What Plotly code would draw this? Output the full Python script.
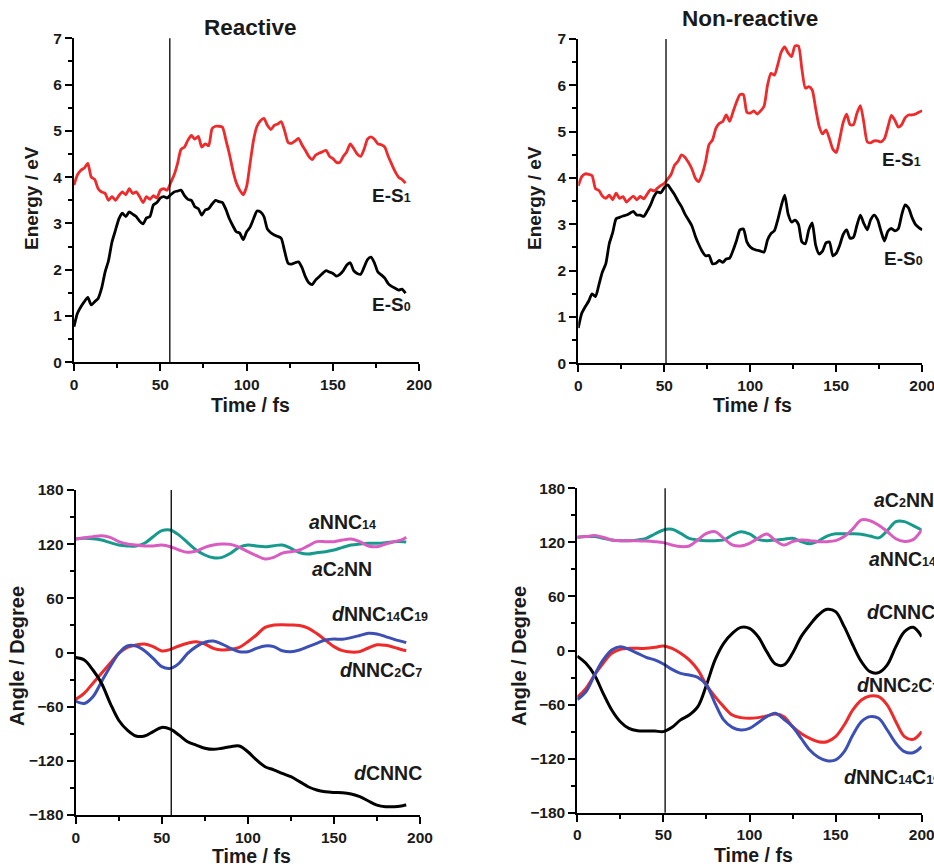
import plotly.graph_objects as go

# ---------------- data ----------------
# Energy panels: sampled every 2 fs
E_S1_REACT = [3.83, 4.05, 4.15, 4.2, 4.3, 4.0, 3.95, 3.75, 3.68, 3.65,
              3.5, 3.58, 3.5, 3.6, 3.68, 3.62, 3.75, 3.65, 3.68, 3.58,
              3.45, 3.58, 3.52, 3.6, 3.55, 3.72, 3.75, 3.72, 3.88, 4.05,
              4.3, 4.6, 4.65, 4.8, 4.9, 4.82, 4.88, 4.65, 4.72, 4.68,
              5.05, 5.1, 5.1, 5.08, 4.8, 4.5, 4.15, 3.88, 3.72, 3.62,
              3.8, 4.3, 4.8, 5.1, 5.22, 5.27, 5.12, 5.03, 5.12, 5.15,
              5.2, 5.0, 4.75, 4.73, 4.78, 4.84, 4.7, 4.58, 4.45, 4.38,
              4.48, 4.52, 4.55, 4.58, 4.45, 4.4, 4.32, 4.32, 4.45, 4.55,
              4.72, 4.62, 4.5, 4.45, 4.6, 4.82, 4.87, 4.82, 4.72, 4.7,
              4.65, 4.45, 4.28, 4.12, 4.0, 3.95, 3.87]
E_S0_REACT = [0.77, 1.06, 1.2, 1.31, 1.4, 1.24, 1.31, 1.38, 1.6, 1.95,
              2.2, 2.6, 2.85, 3.1, 3.22, 3.15, 3.25, 3.2, 3.15, 3.05,
              2.99, 3.12, 3.15, 3.4, 3.45, 3.55, 3.58, 3.55, 3.62, 3.68,
              3.7, 3.72, 3.6, 3.52, 3.5, 3.36, 3.32, 3.18, 3.29, 3.32,
              3.42, 3.5, 3.47, 3.45, 3.3, 3.1, 2.95, 2.82, 2.79, 2.65,
              2.82, 2.92, 3.1, 3.27, 3.25, 3.15, 2.88, 2.8, 2.75, 2.72,
              2.68, 2.4, 2.14, 2.12, 2.15, 2.17, 2.05, 1.85, 1.72, 1.68,
              1.78, 1.85, 1.92, 1.98, 1.95, 1.92, 1.86, 1.9, 1.98, 2.1,
              2.15, 1.98, 1.92, 1.9, 2.05, 2.22, 2.27, 2.15, 1.95, 1.89,
              1.82, 1.7, 1.64, 1.6, 1.56, 1.58, 1.49]
E_S1_NONREACT = [3.83, 4.03, 4.09, 4.08, 4.05, 3.77, 3.73, 3.61, 3.56, 3.63,
                 3.53, 3.67, 3.56, 3.6, 3.48, 3.55, 3.61, 3.53, 3.6, 3.55,
                 3.65, 3.75, 3.72, 3.78, 3.84, 3.88, 3.98, 4.08, 4.28, 4.36,
                 4.5, 4.45, 4.34, 4.2, 4.0, 3.92, 4.08, 4.35, 4.72, 4.82,
                 5.07, 5.18, 5.22, 5.36, 5.22, 5.43, 5.64, 5.8, 5.8, 5.42,
                 5.4, 5.45, 5.38, 5.45, 5.55, 6.0, 6.26, 6.22, 6.45, 6.72,
                 6.83, 6.7, 6.62, 6.85, 6.85, 6.35, 5.94, 5.97, 5.9, 5.5,
                 5.12, 4.95, 5.04, 4.85, 4.62, 4.55, 4.85, 5.2, 5.38, 5.15,
                 5.15, 5.4, 5.56, 5.2, 4.78, 4.76, 4.8, 4.8, 4.78, 4.85,
                 5.1, 5.35, 5.25, 5.1, 5.15, 5.3, 5.36, 5.36, 5.38, 5.42,
                 5.45]
E_S0_NONREACT = [0.76, 1.08, 1.22, 1.34, 1.5, 1.44, 1.7, 1.97, 2.15, 2.58,
                 2.82, 3.12, 3.15, 3.18, 3.2, 3.24, 3.28, 3.2, 3.2, 3.17,
                 3.28, 3.42, 3.6, 3.7, 3.68, 3.79, 3.85, 3.75, 3.64, 3.5,
                 3.38, 3.22, 3.1, 2.97, 2.75, 2.57, 2.42, 2.32, 2.33, 2.15,
                 2.16, 2.22, 2.18, 2.25, 2.27, 2.44, 2.65, 2.88, 2.9, 2.62,
                 2.51, 2.46, 2.44, 2.42, 2.4, 2.66, 2.8, 2.86, 3.1, 3.4,
                 3.63, 3.22, 3.05, 3.09, 3.0, 2.62, 2.58, 2.88, 3.03, 2.55,
                 2.36, 2.42, 2.6, 2.62, 2.32, 2.38, 2.55, 2.78, 2.88, 2.7,
                 2.72, 2.98, 3.2, 3.02, 2.88, 3.1, 3.2, 3.1, 2.85, 2.64,
                 2.85, 2.91, 2.86, 2.9, 3.2, 3.42, 3.35, 3.15, 3.0, 2.93,
                 2.88]
T_E_REACT = [2 * i for i in range(len(E_S1_REACT))]
T_E_NONREACT = [2 * i for i in range(len(E_S1_NONREACT))]

# Angle panels
T_ANG_REACT = [0, 5, 10, 15, 20, 25, 30, 35, 40, 45, 50, 55, 60, 65, 70, 75, 80, 85, 90, 95,
               100, 105, 110, 115, 120, 125, 130, 135, 140, 145, 150, 155, 160, 165, 170, 175,
               180, 185, 190, 192]
D_CNNC_R = [-5.5, -8.3, -19.4, -34, -56, -75, -86, -92.5, -92.5, -87.7,
            -83, -85, -91.4, -98.8, -102.5, -106, -107.3, -106, -104.3, -103.6,
            -109.9, -119, -126.5, -130, -133.9, -137.6, -143, -148.7, -152.3, -154.2,
            -155, -155.3, -156.8, -159.7, -164.5, -169, -170.8, -170.8, -169.7, -169]
D_NNC2C7_R = [-52, -45, -34, -23, -12, -1, 5.7, 8.3, 9.4, 6.5,
              1.7, 3.5, 7.2, 10.2, 12, 9.4, 4.6, 2.8, 3.5, 5.7,
              12, 19.4, 27.9, 30.4, 30.8, 30.5, 30, 27, 21, 13.8,
              6.5, 2, 0.5, 1, 5, 8.5, 8, 5.7, 2.8, 2]
D_NNC14C19_R = [-54, -56.4, -49, -32.3, -15.7, -1, 7.2, 7.2, 2, -6.5,
                -15.7, -17.6, -12, -1, 6.5, 11.3, 12.7, 9.4, 4.6, 0.9,
                0.9, 4.6, 7.2, 6.5, 2, 0.9, 2.8, 6.5, 10.2, 13.8,
                15, 14.6, 16.5, 18.8, 21.2, 20.5, 17.6, 14.6, 12, 10.9]
A_C2NN_R = [125.7, 126.5, 126, 124.6, 121.7, 119, 118, 118, 121, 128.3,
            135, 135.7, 130, 121.7, 113.5, 108, 105, 105.4, 110, 116.5,
            119, 118, 117.2, 118.3, 119, 115.4, 110.6, 109, 110.6, 111.7,
            113.5, 116.5, 119, 120.2, 121, 121, 121.7, 122.8, 122.8, 122.4]
A_NNC14_R = [125.7, 127.2, 128.3, 129.4, 127.6, 122.8, 120.2, 119, 118, 118,
             119, 117.2, 113.5, 111, 112.4, 116.5, 119, 120.2, 119.8, 116.5,
             111.7, 107.3, 103.6, 105.4, 110, 111.7, 113.5, 118, 122.8, 122.8,
             122.8, 124.6, 125.7, 122.8, 118, 117.2, 120.2, 122.8, 125.3, 127.6]

T_ANG_NONREACT = [0, 5, 10, 15, 20, 25, 30, 35, 40, 45, 50, 55, 60, 65, 70, 75, 80, 85, 90, 95,
                  100, 105, 110, 115, 120, 125, 130, 135, 140, 145, 150, 155, 160, 165, 170, 175,
                  180, 185, 190, 195, 200]
D_CNNC_N = [-6.3, -14.2, -27.2, -47.5, -66, -79, -86.4, -89, -89.3, -89.3,
            -90, -85.3, -77, -71.6, -62.3, -38.3, -10.5, 8, 19, 25.7,
            24.6, 15.4, -1.3, -15, -16, -3.1, 15.4, 28.3, 39.4, 45.7,
            43.1, 26.5, 6.1, -12.4, -23.5, -24.6, -16, 4.3, 20.9, 25.7,
            15.4]
D_NNC2C7_N = [-52, -42, -27.2, -14.2, -3.1, 1.3, 2.4, 2.4, 2.4, 3.5,
              5, 2.4, -3.1, -10.5, -21.6, -38.3, -51.2, -62.3, -71.6, -74.5,
              -75.3, -74.5, -72.7, -70.5, -73.4, -84.5, -92, -97.5, -101.2, -101.2,
              -95.6, -82.7, -66, -54.9, -50.5, -51.2, -60.5, -79, -95.6, -98.6,
              -90]
D_NNC14C19_N = [-54.4, -45.8, -27.2, -10.5, 0.6, 4.3, 1.3, -3.1, -7.6, -10.5,
                -15, -20.9, -25.4, -27.2, -29.8, -38.3, -58.6, -77, -85.3, -88.2,
                -86.4, -80.1, -73.4, -69.7, -76.4, -84.5, -97.5, -110.4, -118.5, -122.3,
                -121.5, -112.3, -93.8, -79, -73.4, -75.3, -88.2, -103, -112.3, -113.4,
                -106.7]
A_C2NN_N = [125.6, 126.4, 126.4, 124.5, 122.7, 121.9, 121.9, 122.7, 124.5, 129.3,
            133.8, 134.5, 130, 124.5, 122.7, 121.9, 121.9, 122.7, 128.2, 131.9,
            129.3, 123.4, 121.9, 122.7, 123.4, 124.5, 121, 118.5, 121.5, 127,
            129.5, 129.5, 129.5, 129, 127, 125, 133, 143, 143, 138.5,
            133.7]
A_NNC14_N = [125.6, 126.4, 127.5, 125.6, 122.7, 121.9, 121.9, 121.9, 121.5, 120.8,
             119.7, 117.1, 115.3, 116, 122.7, 130, 131.9, 124.5, 117.1, 116,
             119, 124.5, 129.3, 122, 117, 121, 122.7, 121.9, 120.8, 120.8,
             121.9, 126.4, 135, 145, 144, 139, 132, 124, 121, 123,
             134]

CROSS_TIME_REACT = 55.5
CROSS_TIME_NONREACT = 51

# ---------------- styling ----------------
FONT = "Liberation Sans, Arial, sans-serif"
RED = "#ee2a2a"
BLACK = "#000000"
TEAL = "#169a8c"
PINK = "#d95cc0"
BLUE = "#3c4fb4"
TXT = "#1a1a1a"

fig = go.Figure()

def line(x, y, color, name, xa, ya, width=2.8, smooth=0.6):
    fig.add_trace(go.Scatter(x=x, y=y, mode="lines", name=name,
                             line=dict(color=color, width=width, shape="spline", smoothing=smooth),
                             xaxis=xa, yaxis=ya, showlegend=False))

# Panel 1: reactive energies
line(T_E_REACT, E_S1_REACT, RED, "E-S1", "x", "y")
line(T_E_REACT, E_S0_REACT, BLACK, "E-S0", "x", "y")
# Panel 2: non-reactive energies
line(T_E_NONREACT, E_S1_NONREACT, RED, "E-S1", "x2", "y2")
line(T_E_NONREACT, E_S0_NONREACT, BLACK, "E-S0", "x2", "y2")
# Panel 3: reactive angles
for ys, c, n in [(A_C2NN_R, TEAL, "aC2NN"), (A_NNC14_R, PINK, "aNNC14"),
                 (D_NNC2C7_R, RED, "dNNC2C7"), (D_NNC14C19_R, BLUE, "dNNC14C19"),
                 (D_CNNC_R, BLACK, "dCNNC")]:
    line(T_ANG_REACT, ys, c, n, "x3", "y3", width=3, smooth=1.0)
# Panel 4: non-reactive angles
for ys, c, n in [(A_C2NN_N, TEAL, "aC2NN"), (A_NNC14_N, PINK, "aNNC14"),
                 (D_CNNC_N, BLACK, "dCNNC"), (D_NNC2C7_N, RED, "dNNC2C7"),
                 (D_NNC14C19_N, BLUE, "dNNC14C19")]:
    line(T_ANG_NONREACT, ys, c, n, "x4", "y4", width=3, smooth=1.0)

# vertical crossing lines
for xv, xr, yr in [(CROSS_TIME_REACT, "x", "y domain"), (CROSS_TIME_NONREACT, "x2", "y2 domain"),
                   (CROSS_TIME_REACT, "x3", "y3 domain"), (CROSS_TIME_NONREACT, "x4", "y4 domain")]:
    fig.add_shape(type="line", x0=xv, x1=xv, y0=0, y1=1, xref=xr, yref=yr,
                  line=dict(color="black", width=1.3))

tickfont = dict(family=FONT, size=15.5, color=TXT, weight="bold")

def xax(domain, anchor):
    return dict(domain=domain, anchor=anchor, range=[0, 200], tick0=0, dtick=50,
                automargin=False, ticklabeloverflow="allow",
                showline=True, linecolor="black", linewidth=2, ticks="outside",
                ticklen=7, tickwidth=2, tickcolor="black", showgrid=False, zeroline=False,
                tickfont=tickfont,
                minor=dict(ticks="outside", ticklen=4, tickwidth=1.5, tickcolor="black", dtick=25, showgrid=False))

def yax(domain, anchor, rng, dtick, mdtick):
    return dict(domain=domain, anchor=anchor, range=rng, tick0=rng[0], dtick=dtick,
                automargin=False, ticklabeloverflow="allow",
                showline=True, linecolor="black", linewidth=2, ticks="outside",
                ticklen=7, tickwidth=2, tickcolor="black", showgrid=False, zeroline=False,
                tickfont=tickfont,
                minor=dict(ticks="outside", ticklen=4, tickwidth=1.5, tickcolor="black", dtick=mdtick, showgrid=False))

W, H = 934, 866
fig.update_layout(
    width=W, height=H, margin=dict(l=0, r=0, t=0, b=0, pad=0, autoexpand=False),
    paper_bgcolor="white", plot_bgcolor="white", showlegend=False,
    xaxis=xax([74 / W, 419.3 / W], "y"),
    yaxis=yax([1 - 362.3 / H, 1 - 38.3 / H], "x", [0, 7], 1, 0.5),
    xaxis2=xax([578.3 / W, 922.3 / W], "y2"),
    yaxis2=yax([1 - 363.3 / H, 1 - 39 / H], "x2", [0, 7], 1, 0.5),
    xaxis3=xax([75.7 / W, 420 / W], "y3"),
    yaxis3=yax([1 - 815 / H, 1 - 490 / H], "x3", [-180, 180], 60, 30),
    xaxis4=xax([577.3 / W, 921.7 / W], "y4"),
    yaxis4=yax([1 - 812.7 / H, 1 - 488.3 / H], "x4", [-180, 180], 60, 30),
)

def ptext(text, x, y, size=19.5, angle=0):
    fig.add_annotation(text=text, x=x / W, y=1 - y / H, xref="paper", yref="paper",
                       showarrow=False, textangle=angle, xanchor="center", yanchor="middle",
                       font=dict(family=FONT, size=size, color=TXT, weight="bold"))

# titles
ptext("Reactive", 250, 28, size=22.5)
ptext("Non-reactive", 750, 18, size=22.5)
# axis titles
ptext("Time / fs", 250, 405)
ptext("Time / fs", 752, 405)
ptext("Time / fs", 252, 856)
ptext("Time / fs", 753, 855)
ptext("Energy / eV", 31, 198, size=19, angle=-90)
ptext("Energy / eV", 534, 198, size=19, angle=-90)
ptext("Angle / Degree", 17, 656, size=20, angle=-90)
ptext("Angle / Degree", 519, 656, size=20, angle=-90)


def s(t):
    # small subscript digits that sit on the baseline, as in the original figure
    return "<span style='font-size:12.5px'>" + t + "</span>"


def dlabel(text, x, y, xa, ya, anchor="left", size=19.5, xshift=0):
    fig.add_annotation(text=text, x=x, y=y, xref=xa, yref=ya, showarrow=False,
                       xanchor=anchor, yanchor="middle", xshift=xshift,
                       font=dict(family=FONT, size=size, color=TXT, weight="bold"))

# energy labels
dlabel("E-S" + s("1"), 196.1, 3.61, "x", "y", anchor="right", size=19)
dlabel("E-S" + s("0"), 196.1, 1.24, "x", "y", anchor="right", size=19)
dlabel("E-S" + s("1"), 200, 4.39, "x2", "y2", anchor="right", size=19, xshift=1)
dlabel("E-S" + s("0"), 200, 2.27, "x2", "y2", anchor="right", size=19, xshift=3)

# angle labels reactive
dlabel("<i>a</i>NNC" + s("14"), 134.4, 144.6, "x3", "y3")
dlabel("<i>a</i>C" + s("2") + "NN", 136.1, 92.5, "x3", "y3")
dlabel("<i>d</i>NNC" + s("14") + "C" + s("19"), 147.7, 42.7, "x3", "y3")
dlabel("<i>d</i>NNC" + s("2") + "C" + s("7"), 152.3, -19.4, "x3", "y3")
dlabel("<i>d</i>CNNC", 160.5, -133.5, "x3", "y3")
# angle labels non-reactive
dlabel("<i>a</i>C" + s("2") + "NN", 171.1, 167, "x4", "y4")
dlabel("<i>a</i>NNC" + s("14"), 168.2, 101.5, "x4", "y4")
dlabel("<i>d</i>CNNC", 167, 42.7, "x4", "y4")
dlabel("<i>d</i>NNC" + s("2") + "C" + s("7"), 161.2, -38.3, "x4", "y4")
dlabel("<i>d</i>NNC" + s("14") + "C" + s("19"), 153.7, -140.4, "x4", "y4")

fig.write_html("out.html",
               config={"displayModeBar": False},
               post_script="document.body.style.margin='0px';document.body.style.overflow='hidden';")
